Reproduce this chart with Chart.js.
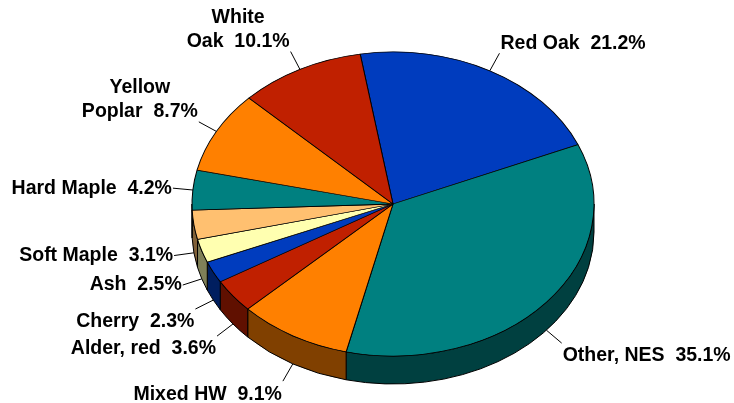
<!DOCTYPE html>
<html><head><meta charset="utf-8">
<script src="https://cdn.jsdelivr.net/npm/chart.js@4"></script>
<style>html,body{margin:0;padding:0;background:#fff;overflow:hidden;}</style>
</head><body>
<canvas id="c" width="734" height="403"></canvas>
<script>
const categories = ['Red Oak','Other, NES','Mixed HW','Alder, red','Cherry','Ash','Soft Maple','Hard Maple','Yellow Poplar','White Oak'];
const shares = [21.2, 35.1, 9.1, 3.6, 2.3, 2.5, 3.1, 4.2, 8.7, 10.1];
const topColors = ['#003CBE','#008080','#FF8000','#C02000','#003CBE','#FFFFB0','#FFC070','#008080','#FF8000','#C02000'];
const sideColors = ['#001E5F','#004040','#804000','#601000','#001E5F','#808058','#806038','#004040','#804000','#601000'];
const wrappedLabels = ['Yellow Poplar','White Oak'];

const GEOM = {cx:393, cy:204, rx:201, ry:152, depth:28};

const pie3d = {
  id:'pie3d',
  beforeDatasetsDraw(chart){
    const ctx = chart.ctx, meta = chart.getDatasetMeta(0);
    const {cx, cy, rx, ry, depth} = GEOM;
    ctx.save();
    ctx.lineWidth = 1; ctx.strokeStyle = '#000'; ctx.lineJoin = 'round';
    meta.data.forEach((arc, i) => {
      const a1 = arc.startAngle, a2 = arc.endAngle;
      for (const k of [-2, 0, 2]) {
        const lo = Math.max(a1, k*Math.PI), hi = Math.min(a2, (k+1)*Math.PI);
        if (hi <= lo) continue;
        ctx.beginPath();
        ctx.ellipse(cx, cy, rx, ry, 0, lo, hi, false);
        ctx.ellipse(cx, cy + depth, rx, ry, 0, hi, lo, true);
        ctx.closePath();
        ctx.fillStyle = sideColors[i];
        ctx.fill(); ctx.stroke();
      }
    });
    ctx.restore();
    const el = meta.data[0];
    ctx.save();
    ctx.translate(cx, cy);
    ctx.scale(rx / el.outerRadius, ry / el.outerRadius);
    ctx.translate(-el.x, -el.y);
  },
  afterDatasetsDraw(chart){ chart.ctx.restore(); },
  afterDraw(chart){
    const ctx = chart.ctx, meta = chart.getDatasetMeta(0);
    const {cx, cy, rx, ry, depth} = GEOM;
    ctx.save();
    ctx.font = 'bold 19.5px "Liberation Sans", Arial, sans-serif';
    ctx.textBaseline = 'middle'; ctx.textAlign = 'center';
    ctx.fillStyle = '#000'; ctx.strokeStyle = '#000'; ctx.lineWidth = 1;
    meta.data.forEach((arc, i) => {
      const mid = (arc.startAngle + arc.endAngle) / 2;
      const c = Math.cos(mid), s = Math.sin(mid);
      const x0 = cx + rx*c, y0 = cy + ry*s + (s > 0 ? depth : 0);
      const x1 = x0 + 20*c, y1 = y0 + 20*s;
      ctx.beginPath(); ctx.moveTo(x0, y0); ctx.lineTo(x1, y1); ctx.stroke();
      const pct = shares[i].toFixed(1) + '%';
      const name = categories[i];
      let lines;
      if (wrappedLabels.includes(name)) {
        const sp = name.indexOf(' ');
        lines = [name.slice(0, sp), name.slice(sp + 1) + '  ' + pct];
      } else lines = [name + '  ' + pct];
      const lh = 24;
      const w = Math.max(...lines.map(l => ctx.measureText(l).width));
      const h = lines.length * lh;
      const boxL = c >= 0 ? x1 + 1 : x1 - 1 - w;
      let boxCY;
      if (s > 0.4) boxCY = y1 + h/2 + 1;
      else if (s < -0.3) boxCY = y1 - h/2 + 2;
      else boxCY = y1;
      lines.forEach((l, j) => ctx.fillText(l, boxL + w/2, boxCY - h/2 + lh*(j + 0.5)));
    });
    ctx.restore();
  }
};

new Chart(document.getElementById('c'), {
  type: 'pie',
  data: {
    labels: categories,
    datasets: [{
      data: shares,
      backgroundColor: topColors,
      borderColor: '#000',
      borderWidth: 1,
      hoverOffset: 0,
      clip: false
    }]
  },
  options: {
    responsive: false,
    animation: false,
    events: [],
    rotation: -9.4,
    layout: {padding: {left: 192, right: 140, top: 3, bottom: 0}},
    plugins: {legend: {display: false}, tooltip: {enabled: false}}
  },
  plugins: [pie3d]
});
</script>
</body></html>
